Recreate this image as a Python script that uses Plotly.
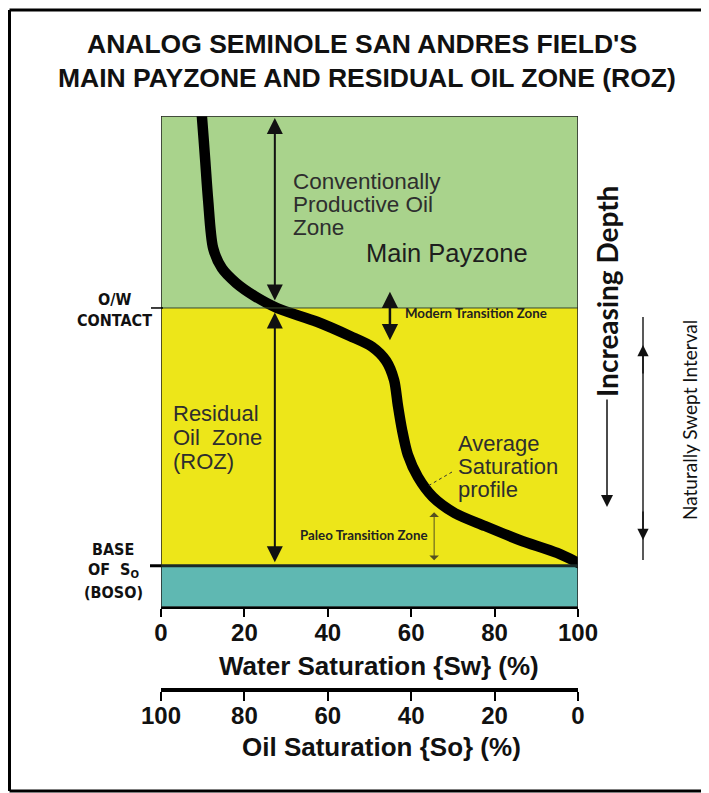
import plotly.graph_objects as go

# ---------------- data ----------------
# average saturation profile: water saturation (%) vs relative depth (0 = top of panel, 100 = bottom)
sw_profile = [9.6, 9.8, 10.6, 11.3, 12.5, 14.6, 18.0, 22.5, 27.8, 37.4, 45.3, 50.6, 54.0, 55.9,
              56.8, 57.8, 59.2, 61.6, 65.2, 70.5, 77.7, 86.1, 95.0, 100.5]
depth_profile = [-1.6, 0.0, 9.0, 17.1, 26.9, 31.0, 34.0, 36.7, 39.1, 41.9, 44.8, 47.0, 49.9, 53.8,
                 58.9, 63.9, 69.0, 73.5, 77.6, 80.9, 83.5, 86.4, 89.0, 91.2]

zone_names = ["Main Payzone", "Residual Oil Zone", "Below BOSO"]
zone_top = [0.0, 39.1, 91.6]
zone_base = [39.1, 91.6, 100.0]
zone_colors = ["#a9d38c", "#ede619", "#5fb8b2"]
ow_contact_depth = 39.1
boso_depth = 91.6

sw_ticks = [0, 20, 40, 60, 80, 100]
so_ticks = [100, 80, 60, 40, 20, 0]

# the page body adds an 8px offset, so the figure covers page pixels 8..709 x 8..793
OFF = 8
W, H = 709 - OFF, 793 - OFF


def px(x):
    return (x - OFF) / W


def py(y):
    return 1 - (y - OFF) / H


ARIAL = "Liberation Sans, Arial, sans-serif"
CAL = "Lato, Carlito, Calibri, sans-serif"
NARROW = "Liberation Sans Narrow, Arial Narrow, DejaVu Sans Condensed, sans-serif"

fig = go.Figure()

fig.add_trace(go.Scatter(
    x=sw_profile, y=depth_profile, mode="lines",
    line=dict(color="black", width=10.5, shape="spline", smoothing=0.8),
    hoverinfo="skip", showlegend=False,
))
# carrier trace for the oil saturation axis
fig.add_trace(go.Scatter(
    x=[so_ticks[0], so_ticks[-1]], y=[None, None], xaxis="x2", mode="markers",
    marker=dict(opacity=0), hoverinfo="skip", showlegend=False,
))

shapes = []
for top, base, col in zip(zone_top, zone_base, zone_colors):
    shapes.append(dict(type="rect", xref="x", yref="y", x0=0, x1=100, y0=top, y1=base,
                       fillcolor=col, line=dict(width=0), layer="below"))
shapes.append(dict(type="line", xref="x", yref="y", x0=0, x1=100, y0=ow_contact_depth,
                   y1=ow_contact_depth, line=dict(color="#3a4a30", width=1)))
shapes.append(dict(type="line", xref="x", yref="y", x0=0, x1=100, y0=boso_depth,
                   y1=boso_depth, line=dict(color="#1a2a28", width=3)))
shapes.append(dict(type="rect", xref="x", yref="y", x0=0, x1=100, y0=0, y1=100,
                   line=dict(color="#222", width=1.5), fillcolor="rgba(0,0,0,0)"))
# left ticks for contacts
shapes.append(dict(type="line", xref="paper", yref="y", x0=px(151), x1=px(163),
                   y0=ow_contact_depth, y1=ow_contact_depth, line=dict(color="black", width=1.5)))
shapes.append(dict(type="line", xref="paper", yref="y", x0=px(150), x1=px(161),
                   y0=boso_depth, y1=boso_depth, line=dict(color="black", width=3)))
# leader line for "Average Saturation profile"
shapes.append(dict(type="line", xref="paper", yref="paper", x0=px(452), y0=py(472),
                   x1=px(428), y1=py(486), line=dict(color="#333", width=1, dash="dot")))
# Naturally swept interval line
shapes.append(dict(type="line", xref="paper", yref="paper", x0=px(643), x1=px(643),
                   y0=py(317), y1=py(560), line=dict(color="#222", width=1.5)))
# outer frame
shapes.append(dict(type="line", xref="paper", yref="paper", x0=px(9.5), x1=1, y0=py(10), y1=py(10),
                   line=dict(color="black", width=3)))
shapes.append(dict(type="line", xref="paper", yref="paper", x0=px(9.5), x1=px(9.5), y0=py(10),
                   y1=py(791), line=dict(color="black", width=3)))
shapes.append(dict(type="line", xref="paper", yref="paper", x0=px(9.5), x1=1, y0=py(791), y1=py(791),
                   line=dict(color="black", width=3)))

ann = []


def text(t, x, y, size, family=ARIAL, bold=False, color="#111", xanchor="left", angle=0):
    ann.append(dict(text=f"<b>{t}</b>" if bold else t, x=px(x), y=py(y), xref="paper", yref="paper",
                    xanchor=xanchor, yanchor="middle", showarrow=False, textangle=angle,
                    font=dict(size=size, family=family, color=color)))


# titles
text("ANALOG SEMINOLE SAN ANDRES FIELD'S", 362, 44, 26.5, bold=True, xanchor="center")
text("MAIN PAYZONE AND RESIDUAL OIL ZONE (ROZ)", 367, 78, 26.5, bold=True, xanchor="center")
# axis titles
text("Water Saturation {Sw} (%)", 379, 666, 26, bold=True, xanchor="center")
text("Oil Saturation {So} (%)", 381, 747, 26, bold=True, xanchor="center")

# inside labels
for i, line in enumerate(["Conventionally", "Productive Oil", "Zone"]):
    text(line, 291, 182 + 23 * i, 22.5, color="#2e2e2e")
text("Main Payzone", 364, 253, 25.5, color="#1e1e1e")
for i, line in enumerate(["Residual", "Oil  Zone", "(ROZ)"]):
    text(line, 171, 413 + 24 * i, 22, color="#2e2e2e")
for i, line in enumerate(["Average", "Saturation", "profile"]):
    text(line, 456, 443 + 23 * i, 22, color="#2e2e2e")
text("Modern Transition Zone", 403, 313, 13.3, family=CAL, bold=True, color="#222")
text("Paleo Transition Zone", 298, 535, 13.3, family=CAL, bold=True, color="#222")

# left contact labels
text("O/W", 114, 300, 16, family=NARROW, bold=True, xanchor="center")
text("CONTACT", 114, 320, 16, family=NARROW, bold=True, xanchor="center")
text("BASE", 113, 549, 16, family=NARROW, bold=True, xanchor="center")
text("OF  S<sub>O</sub>", 113, 570, 16, family=NARROW, bold=True, xanchor="center")
text("(BOSO)", 113, 592, 16, family=NARROW, bold=True, xanchor="center")

# right side vertical labels
text("Increasing Depth", 607, 292, 28, family=CAL, bold=True, xanchor="center", angle=-90)
text("Naturally Swept Interval", 689, 420, 19, family=CAL, xanchor="center", angle=-90)


def arrow_data(x, y_head, y_tail, both=True, width=2, size=1.5, head=2, color="#111"):
    ann.append(dict(text="", x=x, y=y_head, ax=x, ay=y_tail, xref="x", yref="y", axref="x", ayref="y",
                    showarrow=True, arrowhead=head, startarrowhead=head, arrowsize=size,
                    startarrowsize=size, arrowwidth=width, arrowcolor=color,
                    arrowside="end+start" if both else "end", standoff=0, startstandoff=0))


def arrow_px(x, y_head, y_tail, both=False, width=1.5, size=1.4, head=2, color="#111"):
    ann.append(dict(text="", x=px(x), y=py(y_head), ax=0, ay=y_tail - y_head, xref="paper",
                    yref="paper", axref="pixel", ayref="pixel", showarrow=True, arrowhead=head,
                    startarrowhead=head, arrowsize=size, startarrowsize=size, arrowwidth=width,
                    arrowcolor=color, arrowside="end+start" if both else "end",
                    standoff=0, startstandoff=0))


# zone thickness arrows (data coordinates)
arrow_data(27.3, 0.4, 37.9, width=2, size=1.6)
arrow_data(27.3, 40.0, 91.2, width=2, size=1.6)
# modern transition zone
arrow_data(54.9, 35.8, 46.0, width=2.5, size=1.3)
# paleo transition zone
arrow_data(65.5, 80.7, 90.8, width=1, size=1.6, head=1, color="#555020")

# increasing depth arrow
arrow_px(607, 507, 398, width=1.5, size=1.6)
# naturally swept heads
arrow_px(643, 345, 375, width=1.5, size=1.5)
arrow_px(643, 540, 510, width=1.5, size=1.5)

tickfont = dict(size=24, family=ARIAL, color="#111", weight="bold")

fig.update_layout(
    width=W, height=H, margin=dict(l=0, r=0, t=0, b=0, autoexpand=False),
    paper_bgcolor="white", plot_bgcolor="white",
    shapes=shapes, annotations=ann, showlegend=False,
    xaxis=dict(domain=[px(161), px(578)], range=[0, 100], tickvals=sw_ticks, automargin=False,
               showgrid=False, zeroline=False, showline=True, linecolor="black", linewidth=2,
               ticks="outside", ticklen=8, tickwidth=1.5, tickcolor="black",
               tickfont=tickfont, anchor="y", ticklabelstandoff=-5),
    xaxis2=dict(overlaying="x", anchor="free", position=py(690), side="bottom",
                domain=[px(161), px(578)], automargin=False,
                range=[100, 0], tickvals=so_ticks, showgrid=False, zeroline=False,
                showline=True, linecolor="black", linewidth=4,
                ticks="outside", ticklen=9, tickwidth=1.5, tickcolor="black",
                tickfont=tickfont, ticklabelstandoff=-6),
    yaxis=dict(domain=[py(607), py(116)], range=[100, 0], visible=False, automargin=False),
)

fig.write_html("out.html")
